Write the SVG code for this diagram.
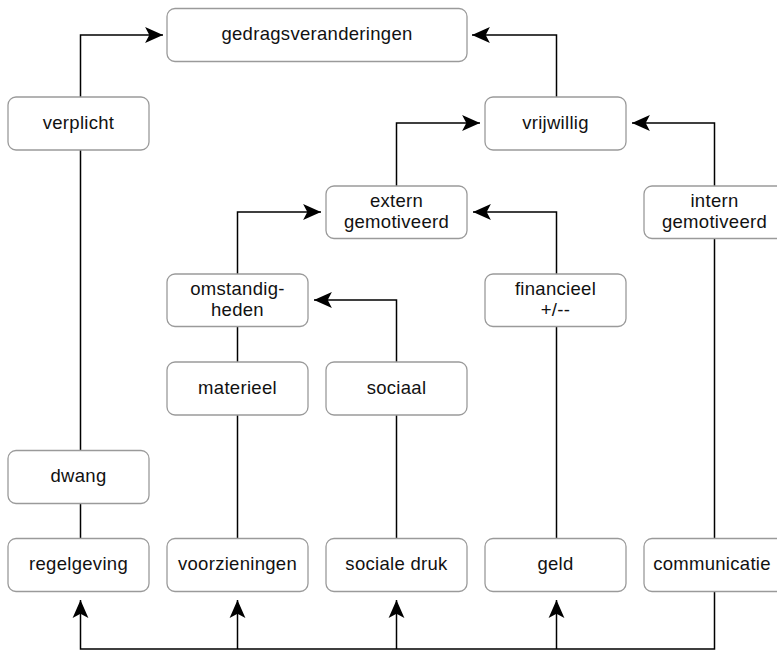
<svg xmlns="http://www.w3.org/2000/svg" width="777" height="651" viewBox="0 0 777 651">
<style>
.box{fill:#fff;stroke:#9a9a9a;stroke-width:1.3}
.t{font-family:"Liberation Sans",Arial,sans-serif;font-size:18.5px;letter-spacing:0.3px;fill:#111;text-anchor:middle}
.c{fill:none;stroke:#000;stroke-width:1.5}
.a{marker-end:url(#arr)}
</style>
<defs>
<marker id="arr" markerUnits="userSpaceOnUse" markerWidth="20" markerHeight="20" viewBox="-18 -9 19 18" refX="0" refY="0" orient="auto">
<path d="M0,0 L-17,-7.5 L-13,0 L-17,7.5 Z" fill="#000"/>
</marker>
</defs>
<rect width="777" height="651" fill="#fff"/>
<g id="connectors">
<path class="c a" d="M80.5,97 V35 H163"/>
<path class="c" d="M80.5,451 V150"/>
<path class="c" d="M80.5,539 V503.5"/>
<path class="c a" d="M556.5,97 V35 H472"/>
<path class="c a" d="M396.5,186 V123 H480"/>
<path class="c a" d="M714.5,186 V123 H632"/>
<path class="c a" d="M237.5,274 V212 H321"/>
<path class="c a" d="M556.5,274 V212 H473"/>
<path class="c a" d="M396.5,362 V300 H314"/>
<path class="c" d="M237.5,539 V415"/>
<path class="c" d="M237.5,362 V326"/>
<path class="c" d="M396.5,539 V415"/>
<path class="c" d="M556.5,539 V326.5"/>
<path class="c" d="M714.5,539 V238.5"/>
<path class="c a" d="M714.5,591.5 V649 H80.5 V600"/>
<path class="c a" d="M237.5,649 V600"/>
<path class="c a" d="M396.5,649 V600"/>
<path class="c a" d="M556.5,649 V600"/>
</g>
<g id="gedragsveranderingen"><rect class="box" x="167" y="8.5" width="300" height="53" rx="8"/><text class="t" x="317" y="40">gedragsveranderingen</text></g>
<g id="verplicht"><rect class="box" x="8" y="97" width="141" height="53" rx="8"/><text class="t" x="78.5" y="128.5">verplicht</text></g>
<g id="vrijwillig"><rect class="box" x="485" y="97" width="141" height="53" rx="8"/><text class="t" x="555.5" y="128.5">vrijwillig</text></g>
<g id="extern"><rect class="box" x="326" y="186" width="141" height="52.5" rx="8"/><text class="t" x="396.5" y="206.5">extern</text><text class="t" x="396.5" y="228">gemotiveerd</text></g>
<g id="intern"><rect class="box" x="644" y="186" width="141" height="52.5" rx="8"/><text class="t" x="714.5" y="206.5">intern</text><text class="t" x="714.5" y="228">gemotiveerd</text></g>
<g id="omstandigheden"><rect class="box" x="167" y="274" width="141" height="52.5" rx="8"/><text class="t" x="237.5" y="294.5">omstandig-</text><text class="t" x="237.5" y="316">heden</text></g>
<g id="financieel"><rect class="box" x="485" y="274" width="141" height="52.5" rx="8"/><text class="t" x="555.5" y="294.5">financieel</text><text class="t" x="555.5" y="316">+/--</text></g>
<g id="materieel"><rect class="box" x="167" y="362" width="141" height="53" rx="8"/><text class="t" x="237.5" y="393.5">materieel</text></g>
<g id="sociaal"><rect class="box" x="326" y="362" width="141" height="53" rx="8"/><text class="t" x="396.5" y="393.5">sociaal</text></g>
<g id="dwang"><rect class="box" x="8" y="450.5" width="141" height="53" rx="8"/><text class="t" x="78.5" y="482">dwang</text></g>
<g id="regelgeving"><rect class="box" x="8" y="538.5" width="141" height="53" rx="8"/><text class="t" x="78.5" y="570">regelgeving</text></g>
<g id="voorzieningen"><rect class="box" x="167" y="538.5" width="141" height="53" rx="8"/><text class="t" x="237.5" y="570">voorzieningen</text></g>
<g id="socialedruk"><rect class="box" x="326" y="538.5" width="141" height="53" rx="8"/><text class="t" x="396.5" y="570">sociale druk</text></g>
<g id="geld"><rect class="box" x="485" y="538.5" width="141" height="53" rx="8"/><text class="t" x="555.5" y="570">geld</text></g>
<g id="communicatie"><rect class="box" x="644" y="538.5" width="141" height="53" rx="8"/><text class="t" x="712" y="570">communicatie</text></g>
</svg>
